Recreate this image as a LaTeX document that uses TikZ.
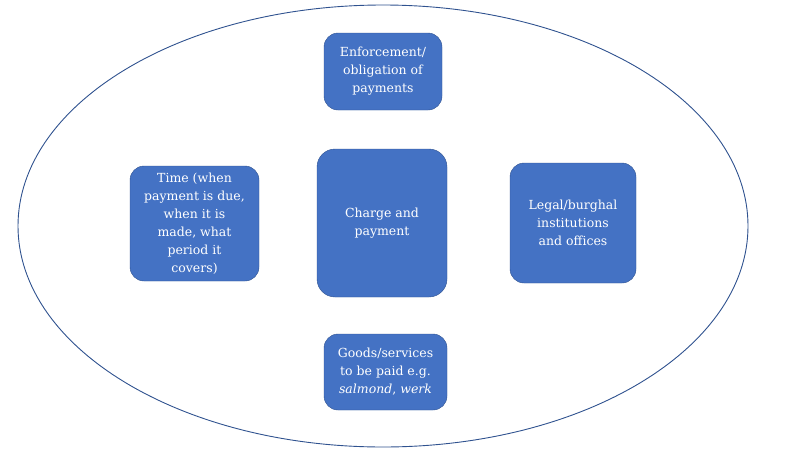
\documentclass[tikz,border=0pt]{standalone}
\usepackage{fontspec}
\setmainfont{DejaVu Serif}
\usepackage{xcolor}
\usetikzlibrary{positioning}
\definecolor{boxblue}{HTML}{4472C4}
\definecolor{edgeblue}{HTML}{2F528F}
\begin{document}
\begin{tikzpicture}[x=1pt, y=-1pt,
    topic/.style={draw=edgeblue, fill=boxblue, rounded corners=14pt, text=white,
        align=center, inner sep=2pt, font=\fontsize{12.5}{18}\selectfont}]
    \useasboundingbox (0,0) rectangle (800,450);
    \draw[edgeblue, line width=0.9pt] (383,226) ellipse [x radius=365, y radius=221];

    \node[topic, minimum width=130pt, minimum height=148pt, rounded corners=18pt] (charge) at (382,223) {Charge and\\payment};
    \node[topic, minimum width=118pt, minimum height=77pt] (enforce) at (383,71.5) {Enforcement/\\obligation of\\payments};
    \node[topic, minimum width=129pt, minimum height=115pt] (time) at (194.5,223.5) {Time (when\\payment is due,\\when it is\\made, what\\period it\\covers)};
    \node[topic, minimum width=126pt, minimum height=120pt] (legal) at (573,223) {Legal/burghal\\institutions\\and offices};
    \node[topic, minimum width=123pt, minimum height=76pt] (goods) at (385.5,372) {Goods/services\\to be paid e.g.\\\textit{salmond}, \textit{werk}};
\end{tikzpicture}
\end{document}
